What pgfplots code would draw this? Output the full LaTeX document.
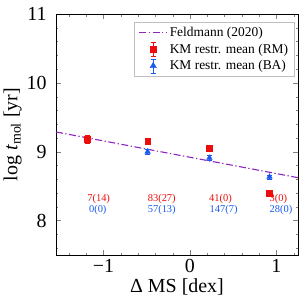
\documentclass[border=0pt]{standalone}
\usepackage{fontspec}
\setmainfont{Liberation Serif}
\usepackage{pgfplots}
\pgfplotsset{compat=1.18}
\definecolor{feld}{rgb}{0.55,0.15,0.75}
\definecolor{rmred}{rgb}{0.93,0.05,0.05}
\definecolor{bablue}{rgb}{0.1,0.35,0.95}
\begin{document}
\begin{tikzpicture}
\useasboundingbox (-56bp,-53bp) rectangle (252bp,255bp);
\begin{axis}[
  at={(0,0)}, anchor=south west,
  scale only axis, width=242bp, height=241bp,
  xmin=-1.55, xmax=1.25, ymin=7.5, ymax=11,
  xtick={-1,0,1}, xticklabels={−1,0,1},
  ytick={8,9,10,11},
  minor xtick={-1.4,-1.2,-0.8,-0.6,-0.4,-0.2,0.2,0.4,0.6,0.8,1.2},
  minor ytick={7.6,7.8,8.2,8.4,8.6,8.8,9.2,9.4,9.6,9.8,10.2,10.4,10.6,10.8},
  tick align=inside, tick pos=both,
  major tick length=5bp, minor tick length=2.5bp,
  /pgf/number format/assume math mode=true,
  ticklabel style={font=\fontsize{20}{22}\selectfont},
  yticklabel style={xshift=-6bp},
  xticklabel style={yshift=-1bp},
  xlabel={Δ MS [dex]},
  ylabel={log \textit{t}\textsubscript{mol} [yr]},
  label style={font=\fontsize{20}{22}\selectfont},
  xlabel style={yshift=1bp},
  ylabel style={yshift=-2bp},
  legend style={at={(0.985,0.968)}, anchor=north east, draw=gray!50, fill=white,
    font=\fontsize{13.5}{15}\selectfont, row sep=2bp, inner xsep=4bp, inner ysep=3bp},
  legend cell align=left,
]
\addplot[feld, line width=1.1pt, dash pattern=on 7bp off 2.5bp on 1.3bp off 2.5bp, forget plot] coordinates {(-1.55,9.287) (1.25,8.623)};
\addlegendimage{feld, line width=1.1pt, dash pattern=on 7bp off 2.5bp on 1.3bp off 2.5bp, legend image code/.code={\draw (0bp,0bp)--(28bp,0bp);}}
\addlegendentry{Feldmann (2020)}
\addplot[rmred, only marks, mark=square*, mark size=2.8bp,
  legend image code/.code={
    \draw[rmred,line width=0.6pt] (14bp,-7bp)--(14bp,7bp) (11.5bp,-7bp)--(16.5bp,-7bp) (11.5bp,7bp)--(16.5bp,7bp);
    \fill[rmred] (11.2bp,-2.8bp) rectangle (16.8bp,2.8bp);},
  error bars/.cd, y dir=both, y explicit, error bar style={rmred, line width=0.6pt}, error mark options={rmred, mark size=2.5bp, rotate=90}]
  coordinates {(-1.19,9.18) +- (0,0.06) (-0.49,9.155) +- (0,0.02) (0.22,9.05) +- (0,0.02) (0.915,8.40) +- (0,0.02)};
\addlegendentry{KM restr. mean (RM)}
\addplot[bablue, only marks, mark=triangle*, mark size=3.2bp,
  legend image code/.code={
    \draw[bablue,line width=0.6pt] (14bp,-7bp)--(14bp,7bp) (11.5bp,-7bp)--(16.5bp,-7bp) (11.5bp,7bp)--(16.5bp,7bp);
    \fill[bablue] (10.8bp,-1.8bp)--(17.2bp,-1.8bp)--(14bp,3.6bp)--cycle;},
  error bars/.cd, y dir=both, y explicit, error bar style={bablue, line width=0.6pt}, error mark options={bablue, mark size=2.5bp, rotate=90}]
  coordinates {(-0.49,9.0) +- (0,0.03) (0.225,8.91) +- (0,0.04) (0.92,8.635) +- (0,0.03)};
\addlegendentry{KM restr. mean (BA)}
\begin{scope}[font=\fontsize{10.5}{12}\selectfont]
\node[rmred, anchor=west, inner sep=0pt] at (axis cs:-1.19,8.31) {7(14)};
\node[rmred, anchor=west, inner sep=0pt] at (axis cs:-0.49,8.31) {83(27)};
\node[rmred, anchor=west, inner sep=0pt] at (axis cs:0.22,8.31) {41(0)};
\node[rmred, anchor=west, inner sep=0pt] at (axis cs:0.92,8.31) {3(0)};
\node[bablue, anchor=west, inner sep=0pt] at (axis cs:-1.17,8.15) {0(0)};
\node[bablue, anchor=west, inner sep=0pt] at (axis cs:-0.49,8.15) {57(13)};
\node[bablue, anchor=west, inner sep=0pt] at (axis cs:0.225,8.15) {147(7)};
\node[bablue, anchor=west, inner sep=0pt] at (axis cs:0.92,8.15) {28(0)};
\end{scope}
\end{axis}
\end{tikzpicture}
\end{document}
